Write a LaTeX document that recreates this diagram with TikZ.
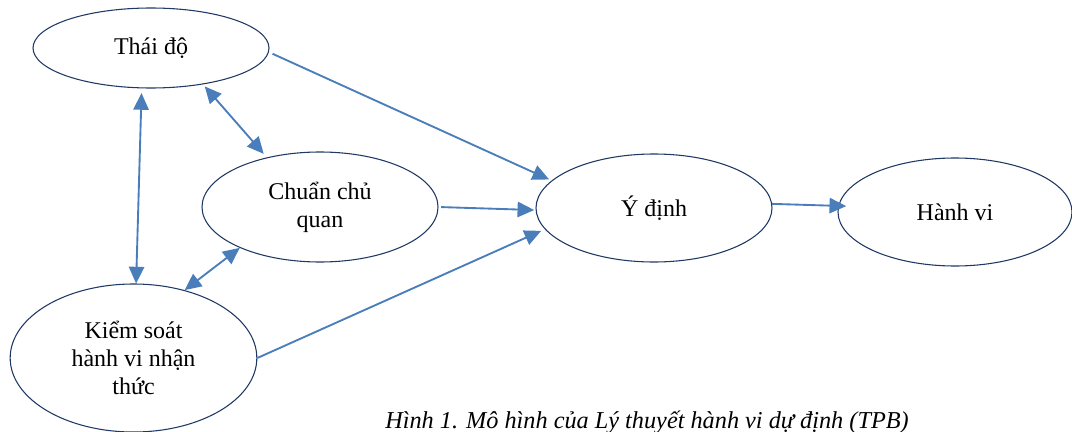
\documentclass[tikz,border=0pt]{standalone}
\usepackage{fontspec}
\setmainfont{Liberation Serif}
\usetikzlibrary{shapes.geometric,arrows.meta}
\definecolor{vienxanh}{HTML}{1F3864}
\definecolor{muixanh}{HTML}{4A7EBB}

\begin{document}
\begin{tikzpicture}[x=0.75pt,y=-0.75pt]
	\tikzset{KhoiStyle/.style =
		{draw = vienxanh,
			shape = ellipse,
			line width = 0.8pt,
			fill = white,
			inner sep = 0pt,
			align = center,
			font = \fontsize{18}{21}\selectfont,
			text = black},
		MuiTen/.style =
		{draw = muixanh,
			line width = 1.4pt,
			-{Triangle[length=12.5pt,width=11.5pt]}},
		HaiMui/.style =
		{MuiTen,
			{Triangle[length=12.5pt,width=11.5pt]}-{Triangle[length=12.5pt,width=11.5pt]}}}
	\useasboundingbox (0,0) rectangle (1072,432);
	% cac khoi
	\node[KhoiStyle, minimum width=177pt, minimum height=60pt] (thaido) at (151,48) {Thái độ};
	\node[KhoiStyle, minimum width=177pt, minimum height=82.5pt] (chuquan) at (320,207) {Chuẩn chủ\\quan};
	\node[KhoiStyle, minimum width=177pt, minimum height=81pt] (ydinh) at (654,208) {Ý định};
	\node[KhoiStyle, minimum width=175.5pt, minimum height=81pt] (hanhvi) at (955,212) {Hành vi};
	\node[KhoiStyle, minimum width=185pt, minimum height=111pt] (kiemsoat) at (133.5,358) {Kiểm soát\\hành vi nhận\\thức};
	% cac mui ten
	\draw[HaiMui, shorten <=3.5pt] (thaido.257) -- (kiemsoat.88);
	\draw[HaiMui, shorten <=2pt, shorten >=3.5pt] (thaido.325) -- (chuquan.137);
	\draw[HaiMui] (chuquan.207) -- (kiemsoat.53);
	\draw[MuiTen, shorten <=3pt, shorten >=2pt] (thaido.358) -- (ydinh.165);
	\draw[MuiTen, shorten <=2pt, shorten >=1pt] (chuquan.east) -- (ydinh.181);
	\draw[MuiTen, shorten >=3pt] (kiemsoat.east) -- (ydinh.191);
	\draw[MuiTen, shorten >=-6pt] (ydinh.2) -- (hanhvi.177);
	% chu thich
	\node[font=\fontsize{18.2}{21}\selectfont\itshape, anchor=base] (hinh) at (647,428) {Hình 1. Mô hình của Lý thuyết hành vi dự định (TPB)};
\end{tikzpicture}
\end{document}
